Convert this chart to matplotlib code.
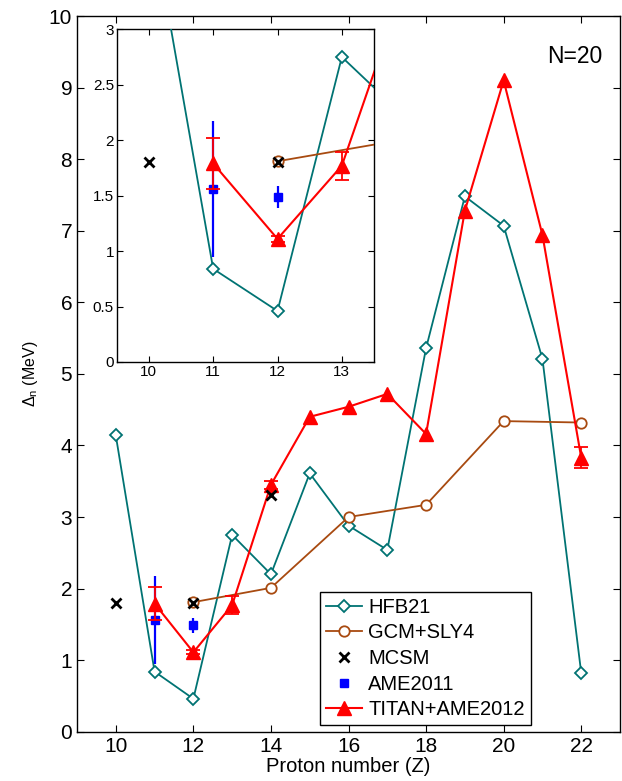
import matplotlib

matplotlib.use("Agg")
import matplotlib.pyplot as plt
from matplotlib.lines import Line2D

plt.rcParams["font.family"] = ["Liberation Sans", "DejaVu Sans"]
plt.rcParams["mathtext.fontset"] = "custom"
plt.rcParams["mathtext.rm"] = "Liberation Sans"
plt.rcParams["mathtext.it"] = "Liberation Sans"

# data
z_hfb = [10, 11, 12, 13, 14, 15, 16, 17, 18, 19, 20, 21, 22]
d_hfb = [4.14, 0.84, 0.46, 2.75, 2.20, 3.61, 2.88, 2.54, 5.36, 7.48, 7.07, 5.21, 0.82]

z_gcm = [12, 14, 16, 18, 20, 22]
d_gcm = [1.81, 2.01, 3.00, 3.17, 4.34, 4.32]

z_mcsm = [10, 12, 14]
d_mcsm = [1.80, 1.80, 3.31]

z_ame = [11, 12]
d_ame = [1.56, 1.485]
e_ame = [0.61, 0.10]

z_titan = [11, 12, 13, 14, 15, 16, 17, 18, 19, 20, 21, 22]
d_titan = [1.79, 1.11, 1.77, 3.45, 4.40, 4.54, 4.72, 4.16, 7.28, 9.10, 6.94, 3.83]
# 0 = error bar too small to see in the reference
e_titan = [0.23, 0.03, 0.125, 0.06, 0, 0, 0, 0, 0, 0, 0, 0.15]

TEAL = "#007373"
BROWN = "#a84a10"
RED = "#ff0000"
BLUE = "#0000ff"

STYLE = {
    "HFB21": dict(color=TEAL, ls="-", marker="D", mfc="white", mec=TEAL, lw=1.3, ms=6.5, mew=1.3),
    "GCM+SLY4": dict(color=BROWN, ls="-", marker="o", mfc="white", mec=BROWN, lw=1.3, ms=7.5, mew=1.3),
    "MCSM": dict(color="black", ls="none", marker="x", ms=7, mew=2),
    "AME2011": dict(color=BLUE, ls="none", marker="s", ms=6),
    "TITAN+AME2012": dict(color=RED, ls="-", marker="^", lw=1.5, ms=10),
}


def draw_series(ax):
    """Draw all five data sets on one axes."""
    ax.plot(z_hfb, d_hfb, zorder=3, **STYLE["HFB21"])
    ax.plot(z_gcm, d_gcm, zorder=3, **STYLE["GCM+SLY4"])
    ax.plot(z_mcsm, d_mcsm, zorder=5, **STYLE["MCSM"])
    ax.errorbar(z_ame, d_ame, yerr=e_ame, fmt="none", ecolor=BLUE,
                elinewidth=1.6, capsize=0, zorder=4)
    ax.plot(z_ame, d_ame, zorder=4, **STYLE["AME2011"])
    zs = [z for z, e in zip(z_titan, e_titan) if e > 0]
    ds = [d for d, e in zip(d_titan, e_titan) if e > 0]
    es = [e for e in e_titan if e > 0]
    ax.errorbar(zs, ds, yerr=es, fmt="none", ecolor=RED, elinewidth=1.3,
                capsize=5, capthick=1.3, zorder=4)
    ax.plot(z_titan, d_titan, zorder=4, **STYLE["TITAN+AME2012"])


fig = plt.figure(figsize=(6.22, 7.81), dpi=100)
ax = fig.add_axes([0.1238, 0.0631, 0.873, 0.9164])
draw_series(ax)

ax.set_xlim(9, 23)
ax.set_ylim(0, 10)
ax.set_xticks(range(10, 23, 2))
ax.set_yticks(range(0, 11))
ax.tick_params(direction="in", top=True, right=True, length=5, width=0.8,
               labelsize=15)
for s in ax.spines.values():
    s.set_linewidth(1.0)
ax.set_xlabel("Proton number (Z)", fontsize=14.5, labelpad=1)
ax.set_ylabel(r"$\Delta_n$ (MeV)", fontsize=11.5, labelpad=6)
ax.text(0.967, 0.96, "N=20", transform=ax.transAxes, ha="right", va="top",
        fontsize=16.5)

handles = [Line2D([], [], **STYLE[k]) for k in STYLE]
leg = ax.legend(handles, list(STYLE), loc="lower left", bbox_to_anchor=(0.447, 0.009),
                borderaxespad=0, fontsize=14.5, fancybox=False, framealpha=1,
                edgecolor="black", handlelength=1.8, handletextpad=0.3,
                labelspacing=0.33, borderpad=0.3, numpoints=1)
leg.get_frame().set_linewidth(1.0)

# inset zoom on the low-Z region
axi = fig.add_axes([0.1876, 0.5365, 0.4137, 0.426])
axi.set_facecolor("white")
draw_series(axi)
axi.set_xlim(9.5, 13.5)
axi.set_ylim(0, 3)
axi.set_xticks([10, 11, 12, 13])
axi.set_yticks([0, 0.5, 1, 1.5, 2, 2.5, 3])
axi.set_yticklabels(["0", "0.5", "1", "1.5", "2", "2.5", "3"])
axi.tick_params(direction="in", top=True, right=True, length=4, width=0.8,
                labelsize=11, pad=2)
for s in axi.spines.values():
    s.set_linewidth(1.0)

fig.savefig("out.png", dpi=100)
